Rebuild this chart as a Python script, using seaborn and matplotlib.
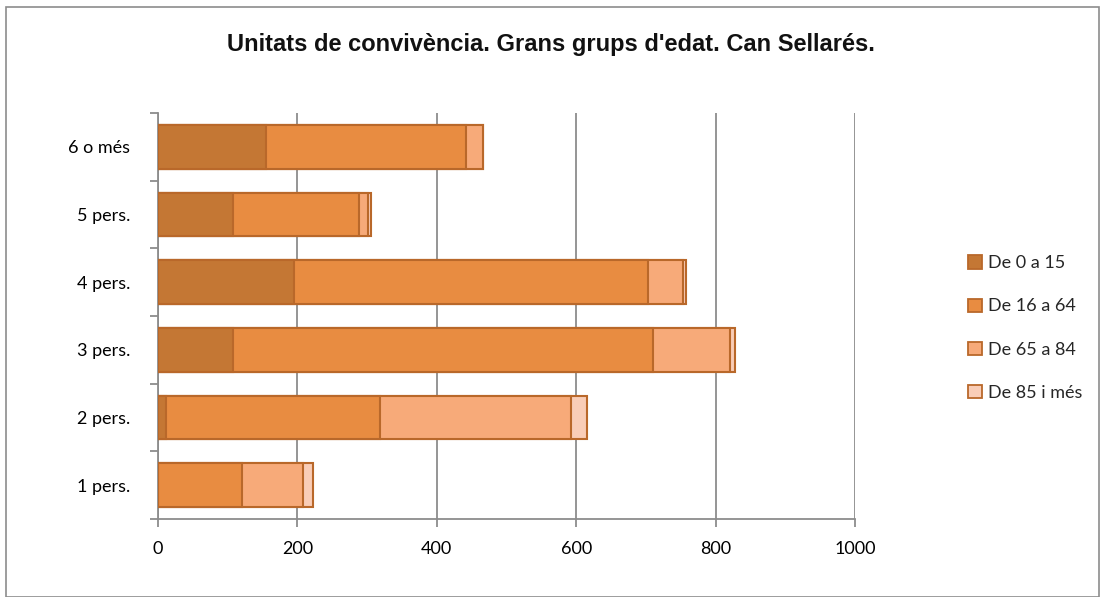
import matplotlib
matplotlib.use("Agg")
import matplotlib.pyplot as plt
import seaborn as sns
import pandas as pd
import numpy as np
from matplotlib.patches import Rectangle, Patch

categories = ["6 o més", "5 pers.", "4 pers.", "3 pers.", "2 pers.", "1 pers."]
series_names = ["De 0 a 15", "De 16 a 64", "De 65 a 84", "De 85 i més"]
de_0_15 = [155, 108, 195, 108, 11, 0]
de_16_64 = [287, 181, 508, 602, 307, 121]
de_65_84 = [25, 13, 50, 110, 275, 87]
de_85_mes = [0, 4, 4, 8, 23, 14]
x_ticks = [0, 200, 400, 600, 800, 1000]
title = "Unitats de convivència. Grans grups d'edat. Can Sellarés."

colors = ["#C47734", "#E88C41", "#F7AA79", "#F9CDB7"]
edge = "#B9682A"

sns.set_theme(style="white")
plt.rcParams['font.family'] = ['Lato', 'DejaVu Sans']

fig = plt.figure(figsize=(11.01, 5.97), dpi=100)
ax = fig.add_axes([158 / 1101, 1 - 519 / 597, (855 - 158) / 1101, (519 - 113) / 597])

series = [de_0_15, de_16_64, de_65_84, de_85_mes]
cum = np.cumsum(np.array(series), axis=0)
for i in range(len(series) - 1, -1, -1):
    df = pd.DataFrame({"cat": categories, "val": cum[i]})
    sns.barplot(data=df, y="cat", x="val", order=categories, orient="h",
                color=colors[i], saturation=1, width=0.65,
                edgecolor=edge, linewidth=1.5, ax=ax, zorder=3)

ax.set_xlim(0, 1000)
ax.set_ylim(len(categories) - 0.5, -0.5)
ax.set_xticks(x_ticks)
ax.set_xticklabels([str(t) for t in x_ticks], fontsize=13)
ax.set_yticks(np.arange(len(categories)))
ax.set_yticklabels(categories, fontsize=13)
ax.set_xlabel("")
ax.set_ylabel("")
ax.grid(axis="x", color="#8C8C8C", linewidth=1.3, zorder=0)
ax.grid(axis="y", visible=False)
for s in ["top", "right"]:
    ax.spines[s].set_visible(False)
for s in ["left", "bottom"]:
    ax.spines[s].set_color("#8C8C8C")
    ax.spines[s].set_linewidth(1.3)

# Excel-style tick marks: y ticks at category boundaries
ax.tick_params(axis="y", which="major", left=True, length=0, pad=20)
ax.set_yticks(np.arange(len(categories) + 1) - 0.5, minor=True)
ax.tick_params(axis="y", which="minor", left=True, length=6, color="#8C8C8C",
               width=1.3, direction="out")
ax.tick_params(axis="x", which="major", bottom=True, length=6, color="#8C8C8C",
               width=1.3, direction="out", pad=10)
ax.tick_params(which="major", labelcolor="#000000")

fig.text(0.5, 1 - 45 / 597, title, ha="center", va="center", fontsize=17,
         fontweight="bold", color="#111111", family=["Liberation Sans", "DejaVu Sans"])

handles = [Patch(facecolor=c, edgecolor=edge, linewidth=1.3) for c in colors]
leg = fig.legend(handles, series_names, loc="center left",
                 bbox_to_anchor=(952 / 1101, 1 - 328 / 597), frameon=False,
                 fontsize=13, handlelength=0.75, handleheight=0.75,
                 handletextpad=0.35, labelspacing=1.5)

fig.patches.append(Rectangle((6 / 1101, 0.0), 1093 / 1101, 1 - 7 / 597,
                             transform=fig.transFigure, fill=False,
                             edgecolor="#8C8C8C", linewidth=1.2, zorder=10))

fig.savefig("out.png", dpi=100)
